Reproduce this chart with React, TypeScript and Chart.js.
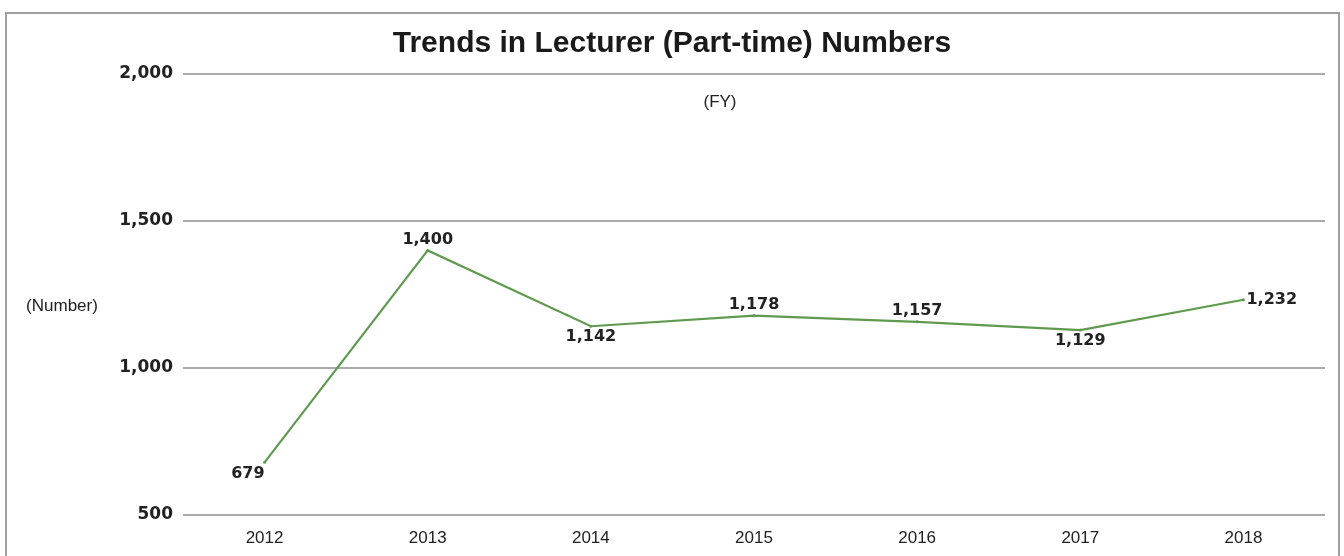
import React, { useEffect, useRef } from "react";
import { Chart, registerables } from "chart.js";

Chart.register(...registerables);

const years: string[] = ["2012", "2013", "2014", "2015", "2016", "2017", "2018"];
const lecturers: number[] = [679, 1400, 1142, 1178, 1157, 1129, 1232];
const labelPlacement: string[] = ["bottomLeft", "top", "bottom", "top", "top", "bottom", "right"];
const yTicks: number[] = [500, 1000, 1500, 2000];

const TITLE = "Trends in Lecturer (Part-time) Numbers";
const X_UNIT = "(FY)";
const Y_UNIT = "(Number)";

const fmt = (v: number) => v.toLocaleString("en-US");

const overlayPlugin = {
  id: "overlay",
  afterDraw(chart: any) {
    const ctx = chart.ctx;
    ctx.save();
    // title
    ctx.fillStyle = "#1a1a1a";
    ctx.font = "bold 30px 'Liberation Sans', Arial, sans-serif";
    ctx.textAlign = "center";
    ctx.textBaseline = "middle";
    ctx.fillText(TITLE, 672, 44);
    // units
    ctx.font = "17px 'Liberation Sans', Arial, sans-serif";
    ctx.fillStyle = "#222";
    ctx.fillText(X_UNIT, 720, 102);
    ctx.fillText(Y_UNIT, 62, 306);
    // data labels
    const meta = chart.getDatasetMeta(0);
    ctx.font = "bold 16px 'DejaVu Sans', sans-serif";
    ctx.fillStyle = "#222";
    meta.data.forEach((pt: any, i: number) => {
      const text = fmt(lecturers[i]);
      const pos = labelPlacement[i];
      let x = pt.x;
      let y = pt.y;
      if (pos === "bottomLeft") {
        ctx.textAlign = "right";
        y = pt.y + 11;
      } else if (pos === "bottom") {
        ctx.textAlign = "center";
        y = pt.y + 11;
      } else if (pos === "top") {
        ctx.textAlign = "center";
        y = pt.y - 11;
      } else if (pos === "right") {
        ctx.textAlign = "left";
        x = pt.x + 3;
      }
      ctx.textBaseline = "middle";
      ctx.fillText(text, x, y);
    });
    ctx.restore();
  },
};

export default function App() {
  const ref = useRef<HTMLCanvasElement | null>(null);
  useEffect(() => {
    if (!ref.current) return;
    const chart = new Chart(ref.current, {
      type: "line",
      data: {
        labels: years,
        datasets: [
          {
            data: lecturers,
            borderColor: "#5f9a4f",
            backgroundColor: "#5f9a4f",
            borderWidth: 2.2,
            pointRadius: 1.5,
            pointBorderWidth: 0,
            tension: 0,
          },
        ],
      },
      options: {
        responsive: false,
        animation: false,
        layout: { padding: { left: 0, right: 19, top: 74, bottom: 0 } },
        plugins: {
          legend: { display: false },
          tooltip: { enabled: false },
          title: { display: false },
        },
        scales: {
          x: {
            offset: true,
            grid: { display: false, drawTicks: false },
            border: { display: false },
            ticks: {
              color: "#222",
              font: { family: "'Liberation Sans', Arial, sans-serif", size: 17 },
              padding: 13,
            },
            afterFit(scale: any) {
              scale.height = 41;
            },
          },
          y: {
            min: 500,
            max: 2000,
            afterBuildTicks(scale: any) {
              scale.ticks = yTicks.map((v) => ({ value: v }));
            },
            grid: { color: "#aaaaaa", lineWidth: 2, drawTicks: false },
            border: { display: false },
            ticks: {
              color: "#222",
              font: { family: "'DejaVu Sans', sans-serif", size: 17, weight: "bold" },
              padding: 10,
              callback: (v: any) => fmt(Number(v)),
            },
            afterFit(scale: any) {
              scale.width = 183;
            },
          },
        },
      },
      plugins: [overlayPlugin],
    });
    return () => chart.destroy();
  }, []);

  return (
    <div style={{ position: "fixed", left: 0, top: 0, width: 1344, height: 556, background: "#fff" }}>
      <div
        style={{
          position: "absolute",
          left: 5,
          top: 12,
          width: 1331,
          height: 560,
          border: "2px solid #a0a0a0",
        }}
      />
      <canvas ref={ref} width={1344} height={556} style={{ position: "absolute", left: 0, top: 0 }} />
    </div>
  );
}
